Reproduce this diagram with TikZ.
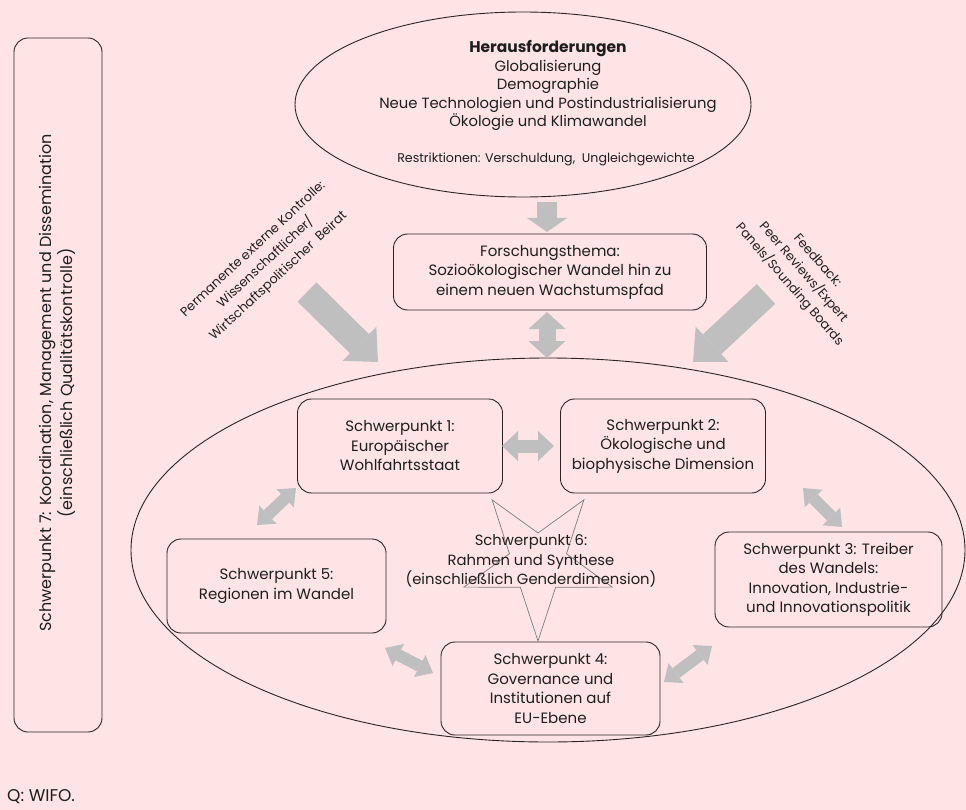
\documentclass[tikz,border=0pt]{standalone}
\usepackage{fontspec}
\setmainfont{Poppins}
\usetikzlibrary{arrows.meta,shapes.geometric}
\definecolor{bgpink}{RGB}{255,228,230}
\definecolor{arrgray}{RGB}{191,191,191}
\definecolor{linec}{RGB}{45,35,35}
\definecolor{txtc}{RGB}{30,30,30}
\definecolor{stargray}{RGB}{125,125,125}
\tikzset{
  box/.style={draw=linec, line width=0.9pt, rounded corners=14pt, align=center,
    font=\fontsize{15}{19.5}\selectfont, text=txtc, inner sep=0pt},
  ell/.style={draw=linec, line width=0.9pt, ellipse, inner sep=0pt},
  plain/.style={align=center, text=txtc, inner sep=0pt},
  fat/.style n args={4}{draw=arrgray, line width=#1,
    -{Triangle[width=#2,length=#3,line width=0pt]}},
  fatboth/.style n args={3}{draw=arrgray, line width=#1,
    {Triangle[width=#2,length=#3,line width=0pt]}-{Triangle[width=#2,length=#3,line width=0pt]}},
}
\begin{document}
\begin{tikzpicture}[x=1pt,y=-1pt]
\fill[bgpink] (0,0) rectangle (966,810);
\useasboundingbox (0,0) rectangle (966,810);

% ellipses
\node[ell, minimum width=456pt, minimum height=185pt] (top) at (523,104.5) {};
\node[ell, minimum width=834pt, minimum height=384pt] (big) at (548,550) {};

% top text
\node[plain, font=\fontsize{14.8}{18.5}\selectfont] (toptext) at (548,85.5)
  {{\fontsize{15.5}{18.5}\selectfont\bfseries Herausforderungen}\\Globalisierung\\Demographie\\Neue Technologien und Postindustrialisierung\\Ökologie und Klimawandel};
\node[plain, font=\fontsize{12.6}{15}\selectfont] (restr) at (546,159)
  {Restriktionen: Verschuldung,\ \ Ungleichgewichte};

% boxes
\node[box, minimum width=313pt, minimum height=76pt] (fth) at (550,272)
  {Forschungsthema:\\Sozioökologischer Wandel hin zu\\einem neuen Wachstumspfad};
\node[box, minimum width=205pt, minimum height=94pt] (sp1) at (400,446)
  {Schwerpunkt 1:\\Europäischer\\Wohlfahrtsstaat};
\node[box, minimum width=205pt, minimum height=94pt] (sp2) at (663,446)
  {Schwerpunkt 2:\\Ökologische und\\biophysische Dimension};
\node[box, minimum width=227pt, minimum height=95pt] (sp3) at (828.5,579.5)
  {Schwerpunkt 3: Treiber\\des Wandels:\\Innovation, Industrie-\\und Innovationspolitik};
\node[box, minimum width=219pt, minimum height=93pt] (sp4) at (550.5,688.5)
  {Schwerpunkt 4:\\Governance und\\Institutionen auf\\EU-Ebene};
\node[box, minimum width=219pt, minimum height=94pt] (sp5) at (276.5,586)
  {Schwerpunkt 5:\\Regionen im Wandel};
\node[box, minimum width=88pt, minimum height=694pt] (sp7) at (58,385) {};
\node[plain, rotate=90, font=\fontsize{16}{21}\selectfont] (sp7t) at (57.5,383)
  {Schwerpunkt 7: Koordination, Management und Dissemination\\(einschließlich Qualitätskontrolle)};

% star
\draw[stargray, line width=0.7pt, shift={(538,563)}]
  (90:78) -- (126:30) -- (162:78) -- (198:30) -- (234:78) -- (270:30)
  -- (306:78) -- (342:30) -- (18:78) -- (54:30) -- cycle;
\node[plain, font=\fontsize{14.8}{19.5}\selectfont] (sp6) at (531,561)
  {Schwerpunkt 6:\\Rahmen und Synthese\\(einschließlich Genderdimension)};

% rotated side texts
\node[plain, rotate=43, font=\fontsize{12.8}{18.5}\selectfont] (ctrl) at (266,263)
  {Permanente externe Kontrolle:\\Wissenschaftlicher/\\Wirtschaftspolitischer\ \ Beirat};
\node[plain, rotate=-49, font=\fontsize{12.8}{18.5}\selectfont] (fb) at (803,273)
  {Feedback:\\Peer Reviews/Expert\\Panels/Sounding Boards};

% arrow end coordinates
\coordinate (d1) at (547,202);   \coordinate (d2) at (547,232);
\coordinate (v1) at (547,312);   \coordinate (v2) at (547,358);
\coordinate (l1) at (307,292);   \coordinate (l2) at (378,362);
\coordinate (r1) at (766,294);   \coordinate (r2) at (693,362);
\coordinate (h1) at (502,446);   \coordinate (h2) at (554,446);
\coordinate (a15) at (296,488);  \coordinate (b15) at (257,525);
\coordinate (a23) at (803,488);  \coordinate (b23) at (842,527);
\coordinate (a54) at (385,648);  \coordinate (b54) at (433,673);
\coordinate (a43) at (664,682);  \coordinate (b43) at (712,646);

% block arrows
\draw[fat={20pt}{40pt}{14pt}{}] (d1) -- (d2);
\draw[fatboth={17pt}{37pt}{17pt}] (v1) -- (v2);
\draw[fat={27pt}{48pt}{26pt}{}] (l1) -- (l2);
\draw[fat={27pt}{48pt}{26pt}{}] (r1) -- (r2);
\draw[fatboth={13pt}{30pt}{16pt}] (h1) -- (h2);
\draw[fatboth={12pt}{25pt}{15pt}] (a15) -- (b15);
\draw[fatboth={12pt}{25pt}{15pt}] (a23) -- (b23);
\draw[fatboth={12pt}{25pt}{15pt}] (a54) -- (b54);
\draw[fatboth={12pt}{25pt}{15pt}] (a43) -- (b43);

% source
\node[plain, anchor=west, font=\fontsize{17}{20}\selectfont] (src) at (7,797) {Q: WIFO.};
\end{tikzpicture}
\end{document}
